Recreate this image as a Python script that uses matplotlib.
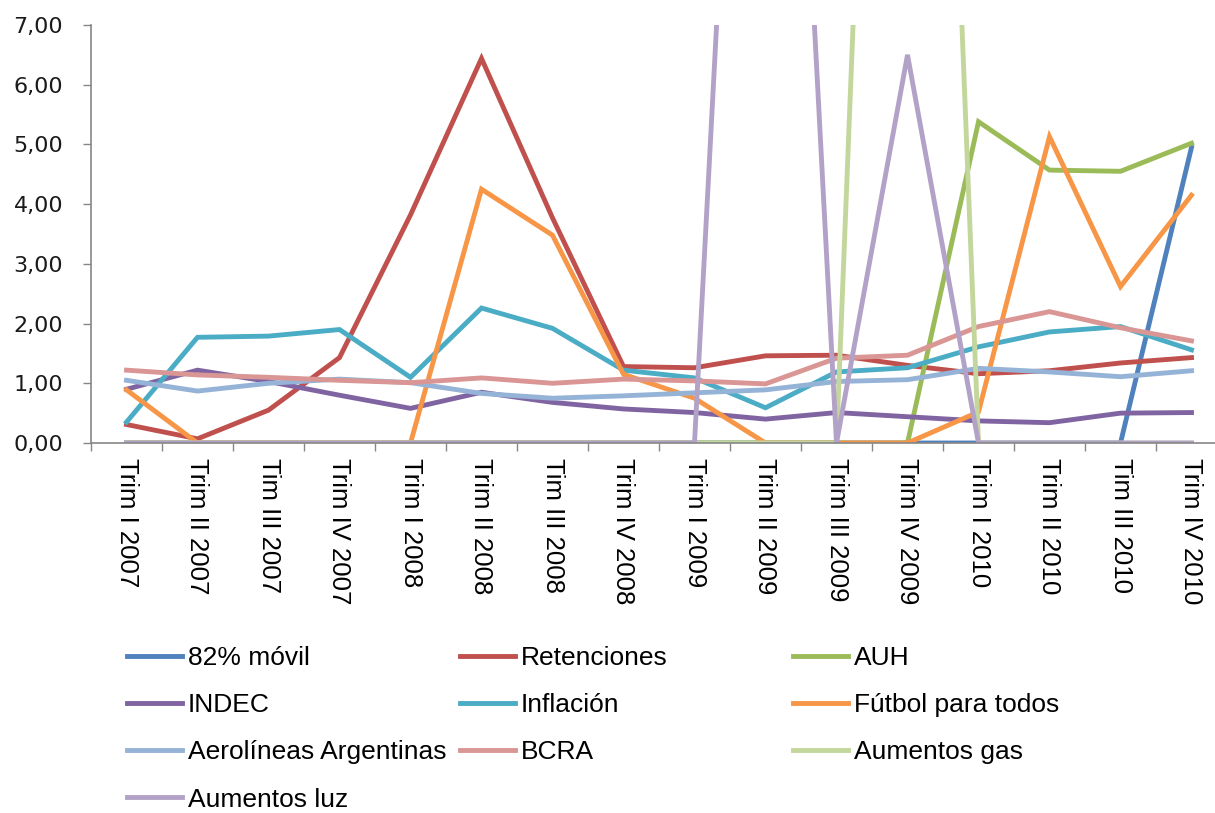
import matplotlib
matplotlib.use("Agg")
import matplotlib.pyplot as plt

# categories (quarters) - labels as in the original, typos included
trimestres = ["Trim I 2007", "Trim II 2007", "Tim III 2007", "Trim IV 2007",
              "Trim I 2008", "Trim II 2008", "Tim III 2008", "Trim IV 2008",
              "Trim I 2009", "Trim II 2009", "Trim III 2009", "Trim IV 2009",
              "Trim I 2010", "Trim II 2010", "Tim III 2010", "Trim IV 2010"]

movil = [0, 0, 0, 0, 0, 0, 0, 0, 0, 0, 0, 0, 0, 0, 0, 4.95]
retenciones = [0.31, 0.07, 0.55, 1.43, 3.82, 6.44, 3.77, 1.28, 1.26, 1.46, 1.47, 1.30, 1.16, 1.21, 1.34, 1.43]
auh = [0, 0, 0, 0, 0, 0, 0, 0, 0, 0, 0, 0, 5.38, 4.57, 4.55, 5.02]
indec = [0.90, 1.22, 1.03, 0.80, 0.58, 0.85, 0.68, 0.57, 0.51, 0.40, 0.51, 0.44, 0.37, 0.34, 0.50, 0.51]
inflacion = [0.35, 1.77, 1.79, 1.90, 1.10, 2.26, 1.92, 1.22, 1.09, 0.59, 1.19, 1.26, 1.61, 1.86, 1.95, 1.56]
futbol = [0.89, 0, 0, 0, 0, 4.25, 3.48, 1.15, 0.75, 0, 0, 0, 0.52, 5.13, 2.62, 4.15]
aerolineas = [1.05, 0.87, 1.00, 1.07, 1.01, 0.83, 0.75, 0.79, 0.84, 0.89, 1.03, 1.06, 1.25, 1.19, 1.11, 1.21]
bcra = [1.22, 1.14, 1.10, 1.05, 1.01, 1.09, 1.00, 1.07, 1.04, 0.99, 1.42, 1.47, 1.95, 2.20, 1.93, 1.71]
gas = [0, 0, 0, 0, 0, 0, 0, 0, 0, 0, 0, 30.0, 0, 0, 0, 0]
luz = [0, 0, 0, 0, 0, 0, 0, 0, 0, 22.5, 0, 6.5, 0, 0, 0, 0]

series = [
    ("82% móvil", movil, "#4F81BD"),
    ("Retenciones", retenciones, "#C0504D"),
    ("AUH", auh, "#9BBB59"),
    ("INDEC", indec, "#8064A2"),
    ("Inflación", inflacion, "#4BACC6"),
    ("Fútbol para todos", futbol, "#F79646"),
    ("Aerolíneas Argentinas", aerolineas, "#95B3D7"),
    ("BCRA", bcra, "#D99694"),
    ("Aumentos gas", gas, "#C3D69B"),
    ("Aumentos luz", luz, "#B3A2C7"),
]

W, H = 1215, 813
fig = plt.figure(figsize=(W / 100, H / 100), dpi=100)

# plot area: left edge at x=91px, y=0 at 443px, y=7 at 25px
ax = fig.add_axes([91 / W, (H - 443) / H, (W - 91) / W, (443 - 25) / H])

x = list(range(len(trimestres)))
handles = []
for name, vals, col in series:
    ln, = ax.plot(x, vals, color=col, lw=3.5, solid_joinstyle="miter", label=name)
    handles.append(ln)

ax.set_ylim(0, 7)
ax.set_xlim(-0.5, -0.5 + (W - 91) / 71)

ax.set_yticks(range(8))
ax.set_yticklabels([f"{v},00" for v in range(8)], fontsize=16, family="DejaVu Sans",
                   color="#1a1a1a")

# tick marks between categories, labels at category centers
ax.set_xticks([i - 0.5 for i in range(len(trimestres))])
ax.set_xticklabels([])
ax.set_xticks(x, minor=True)
ax.set_xticklabels(trimestres, minor=True, rotation=-90, fontsize=18.5,
                   family="Liberation Sans", ha="center", va="top")
ax.tick_params(axis="x", which="minor", length=0, pad=11)
ax.tick_params(axis="both", which="major", direction="out", length=6, width=1,
               color="#868686")
ax.tick_params(axis="y", pad=14)

for s in ["top", "right"]:
    ax.spines[s].set_visible(False)
for s in ["left", "bottom"]:
    ax.spines[s].set_color("#868686")
    ax.spines[s].set_linewidth(1.2)

# legend in three equal columns, filled row by row like Excel
col_x = [127, 460, 793]
for c in range(3):
    hs = handles[c::3]
    fig.legend(handles=hs, labels=[h.get_label() for h in hs],
               loc="upper left", bbox_to_anchor=(col_x[c] / W, 1 - 646 / H),
               frameon=False,
               prop={"family": "Liberation Sans", "size": 19},
               handlelength=2.1, handletextpad=0.2, labelspacing=0.88,
               borderpad=0, borderaxespad=0)

fig.savefig("out.png", dpi=100)
